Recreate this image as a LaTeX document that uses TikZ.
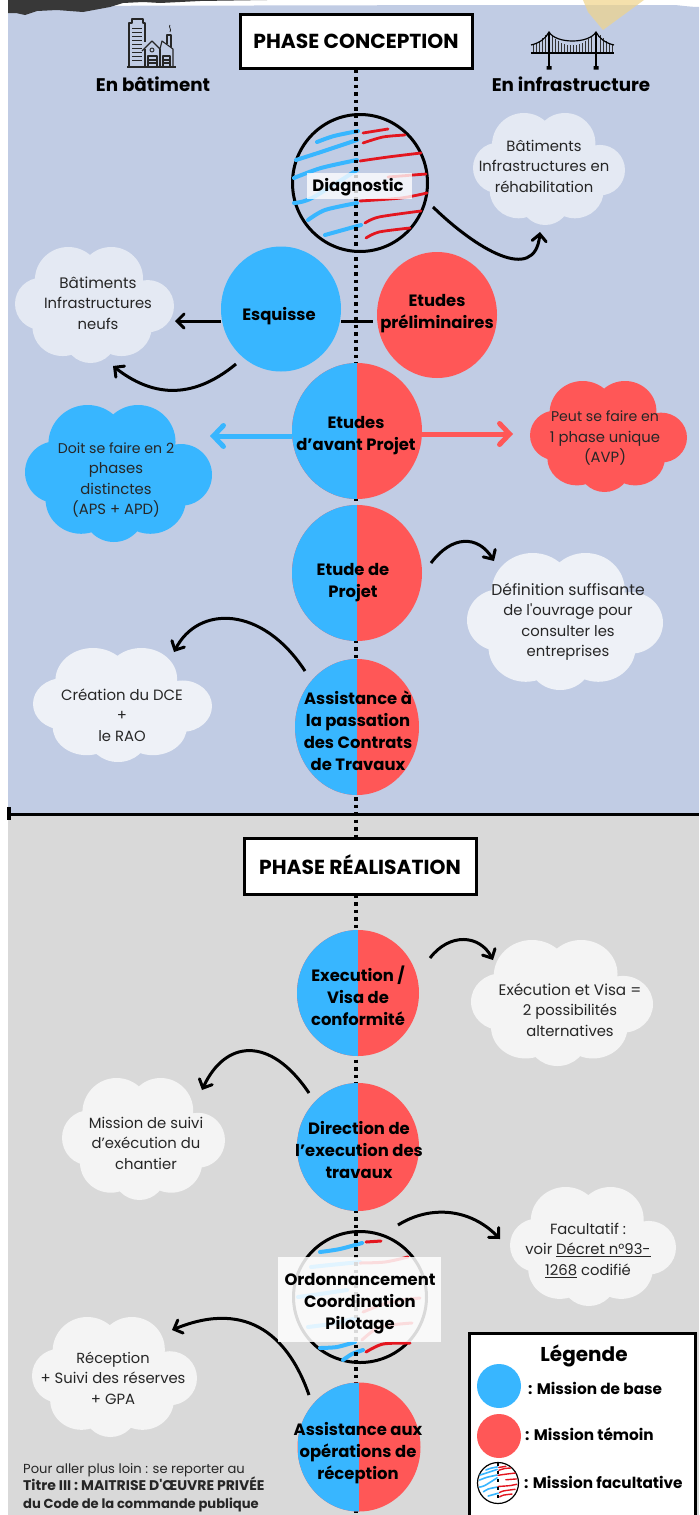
\documentclass[tikz,border=0pt]{standalone}
\usepackage{fontspec}
\setmainfont{Poppins}
\newfontfamily\rawf{Poppins}
\newcommand{\sq}{{\rawf'}}
\newcommand{\fs}[1]{\fontsize{#1}{20.5}\selectfont}
\usetikzlibrary{arrows.meta,shapes.geometric}
\definecolor{panelblue}{HTML}{C1CCE4}
\definecolor{panelgray}{HTML}{D9D9D9}
\definecolor{mbase}{HTML}{38B6FF}
\definecolor{mtemoin}{HTML}{FF5757}
\definecolor{hred}{HTML}{E3161F}
\definecolor{cloudA}{HTML}{E4E9F3}
\definecolor{cloudB}{HTML}{EEF1F7}
\definecolor{cloudC}{HTML}{F4F4F4}
\definecolor{sand}{HTML}{F0D48A}
\tikzset{
  x=1pt,y=-1pt,
  disc/.style={ellipse,inner sep=0pt,outer sep=0pt},
  split/.style={disc,fill=mtemoin,path picture={\fill[mbase] (path picture bounding box.north west) rectangle (path picture bounding box.south);}},
  ring/.style={disc,draw=black,line width=3pt},
  ttl/.style={align=center,font=\fontsize{16.4}{22}\selectfont\bfseries,inner sep=0pt,yshift=-2.5pt},
  cloudtext/.style={align=center,font=\fontsize{14.8}{20.5}\selectfont,inner sep=0pt,text=black!85},
  phase/.style={draw=black,fill=white,line width=3pt,inner sep=0pt,font=\fontsize{20.3}{22}\selectfont\bfseries},
  conn/.style={line width=3pt,-{Straight Barb[length=7pt,width=14pt,line cap=round]}},
  thick arrow blue/.style={draw=mbase,line width=5pt,-{Straight Barb[length=10pt,width=21pt,line cap=round]}},
  thick arrow red/.style={draw=mtemoin,line width=5pt,-{Straight Barb[length=10pt,width=21pt,line cap=round]}},
  axisline/.style={line width=3.2pt,dash pattern=on 3.5pt off 4pt},
  hb/.style={draw=mbase,line cap=round,line join=round},
  hr/.style={draw=hred,line cap=round,line join=round},
  side/.style={font=\fontsize{18.3}{22}\selectfont\bfseries,inner sep=0pt},
  legtext/.style={font=\fontsize{15.3}{18}\selectfont\bfseries,inner sep=0pt,anchor=west},
  foot/.style={font=\fontsize{13.1}{17.5}\selectfont,inner sep=0pt,anchor=north west,align=left,text=black!85},
  icon/.style={draw=black!85,line width=1.1pt,line join=round},
}
\newcommand{\cloudat}[9]{%
  \begin{scope}[shift={(#2,#3)},xscale=#4,yscale=#5]
    \fill[#6] (-.33,-.43) ellipse [x radius=.42,y radius=.57]
      (.21,-.46) ellipse [x radius=.40,y radius=.54]
      (.67,.02) ellipse [x radius=.33,y radius=.45]
      (.34,.38) ellipse [x radius=.38,y radius=.50]
      (-.05,.55) ellipse [x radius=.33,y radius=.45]
      (-.40,.38) ellipse [x radius=.38,y radius=.50]
      (-.67,-.02) ellipse [x radius=.33,y radius=.45]
      (0,0) ellipse [x radius=.65,y radius=.65];
  \end{scope}
  \node[cloudtext] (#1) at (#7,#8) {#9};}
\newcommand{\hatchall}[2]{%
  \draw[hb,line width=#1] plot[smooth] coordinates {(317,142) (334,136) (358,131)};
  \draw[hb,line width=#1] plot[smooth] coordinates {(296,160) (321,152) (357,140)};
  \draw[hb,line width=#1] plot[smooth] coordinates {(294,178) (321,168) (357,160)};
  \draw[hb,line width=#1] plot[smooth] coordinates {(294,203) (312,198) (357,170)};
  \draw[hb,line width=#1] plot[smooth] coordinates {(308,220) (325,210) (357,203)};
  \draw[hb,line width=#1] plot[smooth] coordinates {(325,235) (343,230) (361,225)};
  \draw[hr,line width=#2] plot[smooth] coordinates {(363,133) (388,129)};
  \draw[hr,line width=#2] plot[smooth] coordinates {(363,143) (383,137) (405,135)};
  \draw[hr,line width=#2] plot[smooth] coordinates {(360,161) (388,157) (421,153)};
  \draw[hr,line width=#2] plot[smooth] coordinates {(388,177) (426,174)};
  \draw[hr,line width=#2] plot[smooth] coordinates {(360,201) (401,198) (427,193)};
  \draw[hr,line width=#2] plot[smooth] coordinates {(365,223) (379,217) (421,211)};
  \draw[hr,line width=#2] plot[smooth] coordinates {(366,238) (379,232) (410,228)};}
\begin{document}
\begin{tikzpicture}
\useasboundingbox (0,0) rectangle (699,1515);
% panels
\fill[white] (0,0) rectangle (699,1515);
\fill[panelblue] (8,6) -- (500,5) -- (675,5) .. controls (685,6) and (692,7) .. (699,7) -- (699,814) -- (8,814) -- cycle;
\fill[panelgray] (8,814) rectangle (699,1515);
\fill[black!78] (8,0) -- (8,13) -- (16,13) -- (25,15) -- (37,11) -- (57,10) -- (83,12) -- (110,7) -- (123,3) -- (143,2) -- (160,3) -- (200,1) -- (267,0) -- cycle;
\fill[sand,opacity=.7] (583,0) -- (588,12) -- (603,30) -- (644,0) -- cycle;
% building icon
\draw[icon] (129,66) -- (129,23) -- (132,23) -- (132,19) -- (143,19) -- (143,23) -- (145,23) -- (145,42);
\foreach \yy in {28,32,36,40,44,48,52,56,60} {\draw[icon,line width=.9pt] (132,\yy) -- (142,\yy);}
\fill[panelblue] (147,50) rectangle (172,66);
\draw[icon] (142,51) -- (152,41) -- (160,49) -- (162,41) -- (173,49) -- (173,67);
\draw[icon] (145,49) -- (145,67) (160,49) -- (160,67);
\draw[icon] (167,44) -- (167,35) -- (171,35) -- (171,47);
\draw[icon,line width=.8pt] (170,25) .. controls (168,27) and (172,29) .. (170,32);
\draw[icon,line width=.9pt] (152,50) circle (2);
\draw[icon] (148,67) -- (148,56) -- (157,56) -- (157,67) (148,60) -- (157,60) (148,63) -- (157,63);
\draw[icon] (163,67) -- (163,56) -- (170,56) -- (170,67) (163,60) -- (170,60) (163,63) -- (170,63);
\draw[icon,line width=1.4pt] (127,67) -- (176,67);
% bridge icon
\foreach \hx/\hy in {533/44,536/43,539/41,542/38,545/35,552/36,555/39,558/41,561/43,564/44,567/45,570/45,573/45,576/45,579/44,582/43,585/41,588/39,591/36,600/35,603/38,606/41,609/43,612/44} {\draw[black!80,line width=.9pt] (\hx,\hy) -- (\hx,53);}
\draw[black,line width=1.2pt] (531,45) .. controls (540,43) and (546,38) .. (549,32) .. controls (556,44) and (589,44) .. (596,32) .. controls (599,38) and (605,43) .. (614,45);
\draw[black,line width=2pt] (531,53) -- (614,53);
\draw[black,line width=2.6pt] (549,32) -- (549,66) (596,32) -- (596,66);
\fill[black] (546.5,66) rectangle (551.5,69.5) (593.5,66) rectangle (598.5,69.5);
% optional missions (rings and strokes lie under the axis)
\node[ring,minimum width=135pt,minimum height=137pt] (diag) at (360,183) {};
\hatchall{4pt}{2.8pt}
\node[ring,minimum width=133pt,minimum height=131pt] (ordo) at (360,1297) {};
\begin{scope}[shift={(0,1112)}]
\draw[hb,line width=4pt] plot[smooth] coordinates {(320,140) (340,137) (362,131)};
\draw[hr,line width=3pt] plot[smooth] coordinates {(366,130) (381,129)};
\draw[hb,line width=4pt] plot[smooth] coordinates {(311,155) (330,153) (360,150)};
\draw[hb,line width=4pt] plot[smooth] coordinates {(298,185) (320,182) (347,178)};
\draw[hb,line width=4pt] plot[smooth] coordinates {(308,215) (330,212) (357,206)};
\draw[hr,line width=3pt] plot[smooth] coordinates {(360,151) (385,150) (408,145)};
\draw[hr,line width=3pt] plot[smooth] coordinates {(363,200) (390,190) (420,186)};
\draw[hr,line width=3pt] plot[smooth] coordinates {(362,228) (380,215) (412,211)};
\draw[hb,line width=4pt] plot[smooth] coordinates {(320,236) (337,235) (355,230)};
\draw[hb,line width=4pt] plot[smooth] coordinates {(343,248) (352,242) (363,238)};
\draw[hr,line width=3pt] plot[smooth] coordinates {(366,240) (383,232) (410,231)};
\end{scope}
% axis and phase boxes
\node[phase,minimum width=232pt,minimum height=54pt] (conc) at (356,41) {PHASE CONCEPTION};
\coordinate (axisend) at (356,1515);
\draw[axisline] (conc.south) -- (axisend);
\node[phase,minimum width=232pt,minimum height=56pt] (real) at (360,866) {\raisebox{3.5pt}{PHASE RÉALISATION}};
% section rule
\coordinate (ruleL) at (9,814);
\coordinate (ruleR) at (699,814);
\draw[line width=3pt] (ruleL) -- (ruleR);
\draw[line width=3.5pt] (9,807) -- (9,820);
% discs
\node[disc,fill=mbase,minimum width=120pt,minimum height=125pt] (esq) at (281,309) {};
\node[disc,fill=mtemoin,minimum width=120pt,minimum height=126pt] (prelim) at (437,315) {};
\node[split,minimum width=130pt,minimum height=136pt] (avp) at (357,431) {};
\node[split,minimum width=130pt,minimum height=136pt] (proj) at (357,573) {};
\node[split,minimum width=124pt,minimum height=136pt] (act) at (357,727) {};
\node[split,minimum width=122pt,minimum height=126pt] (exe) at (358,993) {};
\node[split,minimum width=122pt,minimum height=128pt] (det) at (358,1147) {};
\node[split,minimum width=123pt,minimum height=129pt] (aor) at (359,1447) {};
% clouds
\cloudat{c1}{549}{169}{76}{56}{cloudA}{544}{166}{\fs{14.8}Bâtiments\\Infrastructures en\\réhabilitation}
\cloudat{c2}{94.5}{305}{79.5}{58}{cloudA}{98}{303}{\fs{15.2}Bâtiments\\Infrastructures\\neufs}
\cloudat{c3}{118.5}{473.5}{93.5}{68.5}{mbase}{116}{480}{\fs{14.1}Doit se faire en 2\\phases\\distinctes\\(APS + APD)}
\cloudat{c4}{608.5}{436.5}{78.5}{55.5}{mtemoin}{605}{438}{\fs{14.1}Peut se faire en\\1 phase unique\\(AVP)}
\cloudat{c5}{565}{621.5}{98}{68.5}{cloudB}{568}{622}{\fs{15.6}Définition suffisante\\de l\sq ouvrage pour\\consulter les\\entreprises}
\cloudat{c6}{122.5}{705}{89.5}{57}{cloudB}{122}{715}{\fs{14.9}Création du DCE\\+\\le RAO}
\cloudat{c7}{562}{1003}{91}{63}{cloudC}{570}{1010}{\fs{15.2}Exécution et Visa =\\2 possibilités\\alternatives}
\cloudat{c8}{143.5}{1139}{81.5}{61}{cloudC}{146}{1143}{\fs{14.8}Mission de suivi\\d’exécution du\\chantier}
\cloudat{c9}{593}{1246.5}{83}{59.5}{cloudC}{588}{1250}{\fs{14.8}Facultatif :\\voir \underline{Décret n°93-}\\\underline{1268} codifié}
\cloudat{c10}{114.5}{1377}{82.5}{60}{cloudC}{113}{1378}{\fs{14.6}Réception\\+ Suivi des réserves\\+ GPA}
% connectors
\coordinate (y321) at (0,321);
\coordinate (tipEsq) at (175,321);
\coordinate (tipBlue) at (210,436);
\coordinate (tipRed) at (513,434);
\draw[line width=3pt,shorten >=4pt] (esq.east |- y321) -- (prelim.west |- y321);
\draw[conn] (esq.west |- tipEsq) -- (tipEsq);
\draw[conn] ([shift={(73,24)}]diag.center) .. controls (475,248) and (535,285) .. ([shift={(-4,66)}]c1.center);
\draw[conn] ([shift={(-45,55)}]esq.center) .. controls (190,402) and (150,395) .. ([shift={(15,63)}]c2.center);
\draw[thick arrow blue] (avp.west |- tipBlue) -- (tipBlue);
\draw[thick arrow red] (avp.east |- tipRed) -- (tipRed);
\draw[conn] ([shift={(74,-10)}]proj.center) .. controls (452,535) and (478,535) .. ([shift={(-74,-61)}]c5.center);
\draw[conn] ([shift={(-52,-56)}]act.center) .. controls (262,605) and (198,605) .. ([shift={(52,-63)}]c6.center);
\draw[conn] ([shift={(72,-35)}]exe.center) .. controls (450,932) and (480,935) .. ([shift={(-77,-50)}]c7.center);
\draw[conn] ([shift={(-49,-54)}]det.center) .. controls (270,1035) and (225,1040) .. ([shift={(56,-53)}]c8.center);
\draw[conn] ([shift={(38,-72)}]ordo.center) .. controls (430,1205) and (470,1208) .. ([shift={(-88,-11)}]c9.center);
\draw[conn] ([shift={(-50,-52)}]aor.center) .. controls (290,1340) and (250,1298) .. ([shift={(59,-48)}]c10.center);
% overlays on optional missions
\node[fill=white,fill opacity=.78,minimum width=105pt,minimum height=26pt,inner sep=0pt] (diagbox) at (359.5,186) {};
\node[fill=white,fill opacity=.85,minimum width=163pt,minimum height=85pt,inner sep=0pt] (ordobox) at (359.5,1299.5) {};
% labels
\node[ttl] (t1) at (358,185) {Diagnostic};
\node[ttl] (t2) at (279,314) {Esquisse};
\node[ttl] (t3) at (437,311) {Etudes\\préliminaires};
\node[ttl] (t4) at (356,433) {Etudes\\d’avant Projet};
\node[ttl] (t5) at (353,580) {Etude de\\Projet};
\node[ttl] (t6) at (358,728) {Assistance à\\la passation\\des Contrats\\de Travaux};
\node[ttl] (t7) at (358,993) {Execution /\\Visa de\\conformité};
\node[ttl] (t8) at (359,1147) {Direction de\\l’execution des\\travaux};
\node[ttl] (t9) at (360,1301) {Ordonnancement\\Coordination\\Pilotage};
\node[ttl] (t10) at (358,1451) {Assistance aux\\opérations de\\réception};
\node[side] (s1) at (153,84) {En bâtiment};
\node[side] (s2) at (571,84) {En infrastructure};
% footer
\node[foot] (f1) at (23,1463) {Pour aller plus loin : se reporter au\\{\fontsize{14}{17.5}\selectfont\bfseries Titre III : MAITRISE D\sq ŒUVRE PRIVÉE}\\\textbf{du Code de la commande publique}};
% legend
\fill[white] (469,1333) rectangle (695,1516);
\draw[black,line width=3pt] (469,1517) -- (469,1333) -- (695,1333) -- (695,1517);
\node[font=\fontsize{20}{22}\selectfont\bfseries,inner sep=0pt] (lt) at (584,1356) {Légende};
\node[disc,fill=mbase,minimum width=44pt,minimum height=44pt] (l1) at (499,1386) {};
\node[disc,fill=mtemoin,minimum width=44pt,minimum height=44pt] (l2) at (499,1436) {};
\node[disc,draw=black,line width=1.2pt,minimum width=41pt,minimum height=41pt] (l3) at (498,1483) {};
\begin{scope}[shift={(498,1482)},scale=.28,shift={(-360,-185)}]
\hatchall{1.6pt}{1.4pt}
\end{scope}
\draw[line width=1.2pt,dash pattern=on 3pt off 5pt] (l3.north) -- (l3.south);
\node[legtext] (lt1) at (528,1388) {: Mission de base};
\node[legtext] (lt2) at (525,1434) {: Mission témoin};
\node[legtext] (lt3) at (524,1482) {: Mission facultative};
\end{tikzpicture}
\end{document}
